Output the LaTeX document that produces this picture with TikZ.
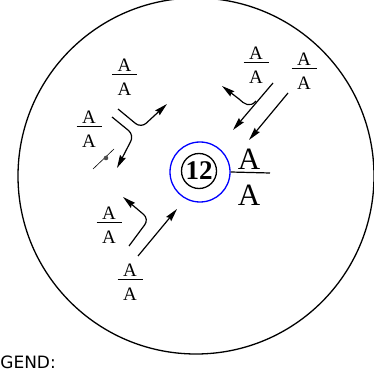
\documentclass[tikz,border=0pt]{standalone}
\usepackage{fontspec}
\setmainfont{Liberation Serif}
\newfontfamily\legendfont{DejaVu Sans}
\usetikzlibrary{arrows.meta}
\tikzset{
  sA/.style={font=\fontsize{19}{19}\selectfont, inner sep=0pt},
  bA/.style={font=\fontsize{31}{31}\selectfont, inner sep=0pt},
  fracrule/.style={line width=1pt},
  arr/.style={line width=1.2pt, -{Stealth[length=13pt,width=6.5pt,inset=1.5pt]}},
  curvearr/.style={arr, rounded corners=7pt},
}
\newcommand\smallfrac[3]{%
  \node[sA, anchor=base] (#1n) at (#2, #3-3) {A};
  \node[sA, anchor=base] (#1d) at (#2, #3+21) {A};
  \draw[fracrule] (#2-12.5, #3) -- (#2+12.5, #3);
}
\begin{document}
\begin{tikzpicture}[x=1pt, y=-1pt]
\useasboundingbox (0,0) rectangle (374,371);
% outer circle
\node[draw, circle, line width=1.3pt, minimum size=356pt, inner sep=0pt] (outer) at (196,176) {};
% center
\node[draw=blue, circle, line width=1.3pt, minimum size=60pt, inner sep=0pt] (blue) at (200,172) {};
\node[draw, circle, line width=1.3pt, minimum size=35pt, inner sep=0pt, font=\fontsize{27}{27}\selectfont\bfseries] (twelve) at (199,171) {12};
% large fraction
\coordinate (ruleend) at (270,173);
\draw[line width=1.2pt] (blue.east) -- (ruleend);
\node[bA, anchor=base] (bigN) at (249,169.5) {A};
\node[bA, anchor=base] (bigD) at (249,205) {A};
% small fractions
\smallfrac{f1}{124.5}{75}
\smallfrac{f2}{89}{127}
\smallfrac{f3}{256}{63}
\smallfrac{f4}{304}{69}
\smallfrac{f5}{109}{222}
\smallfrac{f6}{130}{279}
% arrows upper-left
\coordinate (a1s) at (118,109);
\coordinate (a1c) at (141,128);
\coordinate (a1e) at (167,104);
\draw[curvearr] (a1s) -- (a1c) -- (a1e);
\coordinate (a2s) at (112,117);
\coordinate (a2c) at (134,135);
\coordinate (a2e) at (117,168);
\draw[curvearr] (a2s) -- (a2c) -- (a2e);
% tick with dot
\coordinate (t1) at (93,169);
\coordinate (t2) at (114,149);
\draw[line width=0.6pt] (t1) -- (t2);
\fill[black!70] (106,158) circle (2.3pt);
% arrows upper-right
\coordinate (b1s) at (273,83);
\coordinate (b1e) at (233,130);
\draw[arr] (b1s) -- (b1e);
\coordinate (b2s) at (256,101);
\coordinate (b2c) at (239,99);
\coordinate (b2e) at (222,86);
\draw[arr] (b2s) .. controls (250,108) and (244,104) .. (b2c) -- (b2e);
\coordinate (b3s) at (288,93);
\coordinate (b3e) at (249,140);
\draw[arr] (b3s) -- (b3e);
% arrows lower-left
\coordinate (c1s) at (129,246);
\coordinate (c1c) at (149,219);
\coordinate (c1e) at (123,197);
\draw[curvearr] (c1s) -- (c1c) -- (c1e);
\coordinate (c2s) at (138,256);
\coordinate (c2e) at (177,209);
\draw[arr] (c2s) -- (c2e);
% legend
\node[anchor=base east, inner sep=0pt, font=\legendfont\fontsize{17}{17}\selectfont] (legend) at (56,368) {LEGEND:};
\end{tikzpicture}
\end{document}
